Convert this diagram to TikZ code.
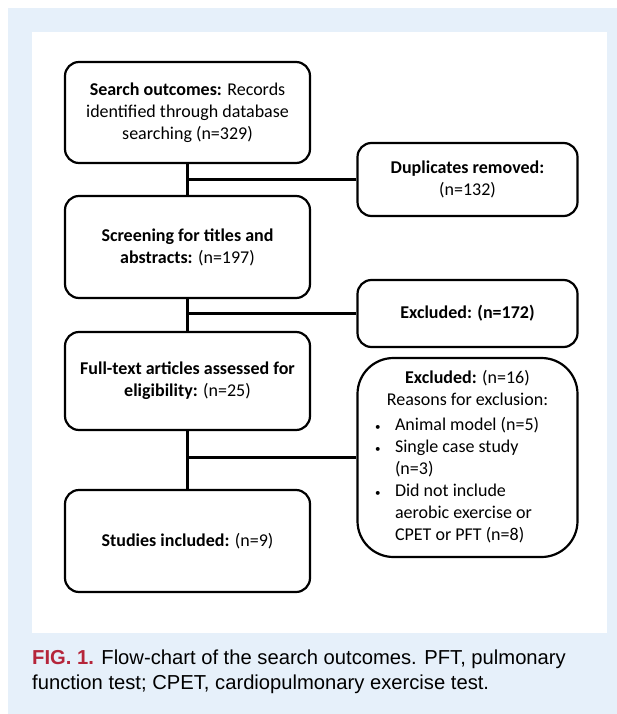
\documentclass[tikz,border=0pt]{standalone}
\usepackage{fontspec}
\setmainfont{Carlito}
\newfontfamily\capfont{Liberation Sans}
\usepackage{array}

\definecolor{panelblue}{HTML}{E6F0FA}
\definecolor{figred}{HTML}{B5253A}

\newcommand{\exbullet}{{\fontsize{11}{11}\selectfont\textbullet}}

\begin{document}
\begin{tikzpicture}[x=1pt,y=-1pt,
      box/.style={draw,line width=2.2pt,rounded corners=14pt,
        minimum width=245pt,align=center,font=\fontsize{18}{22}\selectfont},
      sidebox/.style={box,minimum width=220pt},
      link/.style={line width=2.2pt}]
    \useasboundingbox (0,0) rectangle (617,714);
    \fill[panelblue] (8,8) rectangle (617,714);
    \fill[white] (32,32) rectangle (607,633);

    % left column
    \node[box,minimum height=101pt] (search) at (187.5,112.5)
      {\textbf{Search outcomes:} Records\\identified through database\\searching (n=329)};
    \node[box,minimum height=102pt] (screen) at (187.5,247)
      {\textbf{Screening for titles and}\\\textbf{abstracts:} (n=197)};
    \node[box,minimum height=98pt] (full) at (187.5,381)
      {\textbf{Full-text articles assessed for}\\\textbf{eligibility:} (n=25)};
    \node[box,minimum height=102pt] (incl) at (187.5,541)
      {\textbf{Studies included:} (n=9)};

    % right column
    \node[sidebox,minimum height=73pt] (dup) at (467.5,179.5)
      {\textbf{Duplicates removed:}\\(n=132)};
    \node[sidebox,minimum height=67pt] (excla) at (467.5,313.5)
      {\textbf{Excluded: (n=172)}};
    \node[sidebox,minimum height=199pt,rounded corners=36pt] (exclb) at (467.5,457.5)
      {\begin{tabular}{@{}>{\raggedright}p{20pt}@{}p{165pt}@{}}
         \multicolumn{2}{c}{\textbf{Excluded:} (n=16)}\\
         \multicolumn{2}{c}{Reasons for exclusion:}\\[3pt]
         \exbullet & Animal model (n=5)\\
         \exbullet & Single case study\\
                   & (n=3)\\
         \exbullet & Did not include\\
                   & aerobic exercise or\\
                   & CPET or PFT (n=8)
       \end{tabular}};

    % connectors
    \draw[link] (search) -- (screen);
    \draw[link] (search.south |- dup.west) -- (dup.west);
    \draw[link] (screen) -- (full);
    \draw[link] (screen.south |- excla.west) -- (excla.west);
    \draw[link] (full) -- (incl);
    \draw[link] (full.south |- exclb.west) -- (exclb.west);

    % caption
    \node[anchor=base west,align=left,inner sep=0pt,
      font=\capfont\fontsize{20.2}{25}\selectfont] (caption) at (32,689)
      {\textcolor{figred}{\bfseries FIG. 1.} Flow-chart of the search outcomes. PFT, pulmonary\\
       function test; CPET, cardiopulmonary exercise test.};
  \end{tikzpicture}
\end{document}
